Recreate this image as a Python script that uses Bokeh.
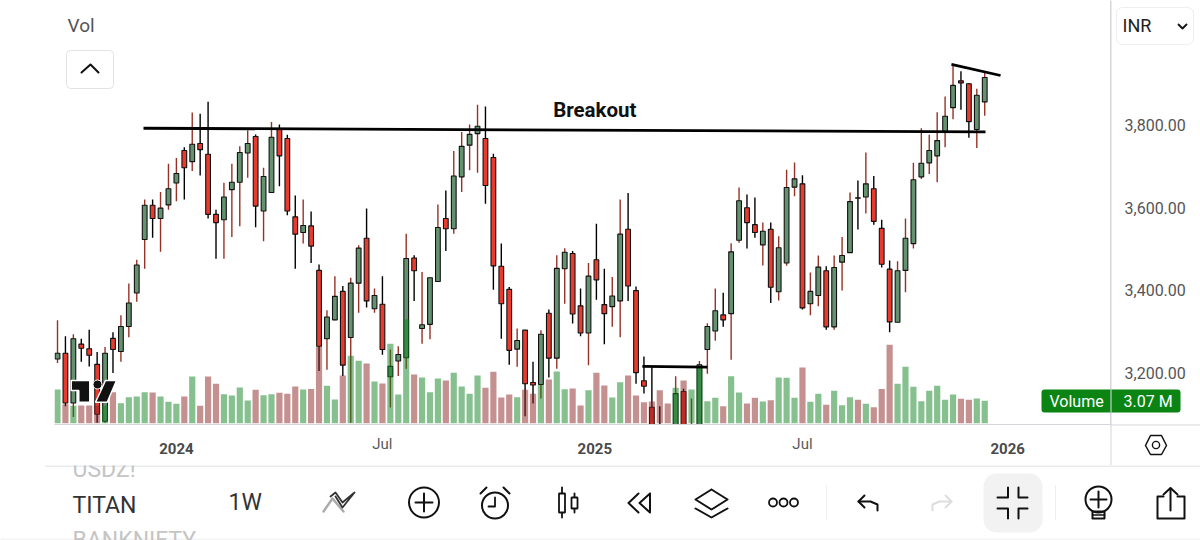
import numpy as np
from bokeh.core.properties import value
from bokeh.embed import file_html
from bokeh.layouts import column
from bokeh.models import BoxAnnotation, ColumnDataSource, FixedTicker, NumeralTickFormatter, Range1d
from bokeh.plotting import figure
from bokeh.resources import INLINE

# weekly TITAN candles (the ones around 75-81 run below the pane)
open_ = [3233,3247,3126,3269,3258,3220,3082,3283,3251,3312,3393,3523,3606,3574,3607,3660,3739,3712,3756,3730,
         3584,3571,3644,3662,3733,3773,3592,3637,3790,3768,3578,3540,3556,3448,3282,3328,3397,3285,3417,3526,
         3355,3366,3190,3228,3236,3478,3307,3317,3421,3574,3549,3675,3752,3780,3768,3722,3458,3402,3257,3303,
         3176,3171,3344,3235,3452,3489,3362,3296,3474,3365,3360,3374,3548,3399,3180,3116,3072,3060,3050,3154,
         3050,3050,3256,3301,3340,3343,3521,3600,3559,3510,3548,3396,3466,3650,3658,3367,3387,3447,3311,3468,
         3491,3624,3626,3646,3550,3451,3322,3448,3513,3675,3709,3726,3785,3843,3908,3901,3790,3857]
high = [3327,3288,3293,3282,3304,3250,3262,3298,3339,3416,3474,3620,3620,3638,3707,3721,3747,3831,3828,3857,
        3595,3661,3707,3749,3788,3778,3697,3808,3802,3777,3630,3620,3591,3462,3351,3434,3410,3430,3509,3598,
        3404,3434,3256,3264,3537,3485,3444,3430,3608,3642,3738,3784,3802,3850,3846,3731,3513,3408,3307,3303,
        3226,3303,3353,3485,3502,3495,3404,3466,3561,3452,3432,3620,3636,3409,3239,3214,3118,3062,3191,3161,
        3137,3228,3320,3404,3394,3514,3649,3632,3625,3564,3564,3531,3692,3710,3679,3443,3484,3458,3484,3529,
        3637,3666,3734,3677,3571,3472,3470,3574,3709,3793,3777,3832,3870,3946,3931,3903,3889,3927]
low = [3223,3118,3092,3226,3215,3078,3078,3199,3226,3286,3372,3452,3527,3493,3595,3616,3620,3689,3678,3574,
       3476,3476,3529,3555,3673,3553,3519,3637,3652,3582,3452,3513,3466,3204,3207,3327,3192,3078,3345,3358,
       3345,3243,3115,3192,3209,3374,3270,3281,3421,3495,3537,3638,3691,3685,3610,3401,3282,3219,3214,3094,
       3125,3137,3188,3209,3367,3319,3288,3218,3377,3269,3311,3286,3374,3173,3149,3027,3027,3020,3035,3030,
       3040,3040,3197,3277,3311,3231,3515,3501,3527,3460,3369,3375,3459,3628,3353,3339,3361,3304,3304,3399,
       3491,3547,3586,3559,3455,3298,3322,3395,3501,3670,3682,3662,3747,3815,3838,3770,3745,3823]
close = [3247,3126,3282,3259,3242,3099,3247,3256,3312,3369,3461,3606,3574,3599,3646,3683,3697,3754,3741,3584,
         3564,3626,3662,3734,3756,3604,3676,3771,3726,3592,3536,3557,3507,3264,3335,3385,3218,3417,3502,3374,
         3387,3256,3215,3244,3477,3447,3316,3430,3552,3549,3677,3749,3778,3798,3654,3459,3367,3254,3278,3173,
         3170,3293,3235,3453,3492,3342,3296,3434,3425,3343,3386,3536,3410,3200,3167,3044,3044,3040,3149,3050,
         3065,3219,3312,3350,3328,3493,3617,3564,3540,3543,3407,3503,3649,3670,3357,3397,3456,3311,3455,3484,
         3615,3623,3658,3567,3463,3323,3447,3526,3668,3708,3739,3763,3822,3897,3903,3809,3873,3916]
volume = [4.63,2.6,2.4,2.43,2.43,2.43,2.4,4.27,2.75,3.58,3.67,4.27,4.22,3.67,2.94,2.66,3.67,6.42,2.39,6.42,
          5.41,3.99,3.81,4.91,3.12,4.59,3.85,3.99,4.17,4.04,5.05,4.63,4.72,10.55,5.14,3.26,6.56,9.27,8.58,8.21,
          5.73,5.46,10.92,3.94,14.3,6.7,6.28,4.27,6.15,5.87,6.93,5.05,4.04,6.56,4.86,7.06,3.53,3.94,3.58,4.6,
          4.04,5.3,6.01,7.11,4.68,4.77,2.43,4.54,6.93,5.18,3.53,5.64,6.56,3.81,2.89,2.98,4.54,2.71,4.86,5.87,
          4.63,7.9,3.03,3.49,2.34,6.47,4.22,2.71,3.49,2.98,3.17,6.28,6.24,3.49,7.66,2.94,4.04,2.52,4.45,2.48,
          3.58,3.21,2.66,2.2,4.72,10.78,5.41,7.75,5.0,3.03,4.45,5.14,3.21,3.94,3.35,3.21,3.39,3.07]

price_ticks = [3200, 3400, 3600, 3800]
year_ticks = {15: "2024", 67.8: "2025", 119.9: "2026"}
month_ticks = {41: "Jul", 94: "Jul"}

# hand drawn lines on the chart: (week, price) ends
breakout_line = ([10.85, 117.1], [3793, 3784])
base_line = ([73.8, 82.0], [3215, 3213])
top_line = ([112.8, 119.0], [3948, 3921])

FONT = "Roboto"
GREY_LINE = "#d3d6da"
INK = "#111111"
week = np.arange(len(close))
up = np.array(close) >= np.array(open_)

source = ColumnDataSource(dict(
    week=week, high=high, low=low,
    top=np.maximum(open_, close), bottom=np.minimum(open_, close),
    volume=volume,
    body=np.where(up, "#64926f", "#e83b2e"),
    wick=np.where(up, "#963225", "#000000"),
    vol_color=np.where(up, "#0d811f", "#892121"),
))

p = figure(width=1200, height=465, output_backend="svg", toolbar_location=None, frame_align=False,
           x_range=Range1d(-0.38, 132.87), y_range=Range1d(3074, 4103), y_axis_location="right",
           min_border_left=54, min_border_right=90, min_border_top=0, min_border_bottom=41,
           outline_line_color=None, background_fill_color="white")
p.grid.visible = False
p.extra_y_ranges = {"vol": Range1d(-0.18, 58.14)}

p.segment("week", "high", "week", "low", source=source, line_color="wick", line_width=1.4)
p.vbar("week", 0.6, "top", "bottom", source=source, fill_color="body", line_color=INK, line_width=1.1)
p.vbar("week", 0.78, "volume", 0, source=source, y_range_name="vol", fill_color="vol_color",
       fill_alpha=0.5, line_color=None)

for xs, ys in (breakout_line, base_line, top_line):
    p.line(xs, ys, line_color="black", line_width=2.8)
p.text([67.8], [3837], text=["Breakout"], text_font=value(FONT), text_font_size="20.5px", text_font_style="bold",
       text_color=INK, text_align="center", text_baseline="middle")

# axes
p.yaxis.ticker = FixedTicker(ticks=price_ticks)
p.yaxis.formatter = NumeralTickFormatter(format="0,0.00")
p.yaxis.major_label_text_font = FONT
p.yaxis.major_label_text_font_size = "16px"
p.yaxis.major_label_text_color = "#555555"
p.yaxis.major_label_standoff = 8
p.yaxis.axis_line_color = GREY_LINE
p.yaxis.major_tick_line_color = None
p.yaxis.minor_tick_line_color = None

p.xaxis.ticker = FixedTicker(ticks=list(year_ticks))
p.xaxis.major_label_overrides = year_ticks
p.xaxis.major_label_text_font = FONT
p.xaxis.major_label_text_font_size = "15px"
p.xaxis.major_label_text_font_style = "bold"
p.xaxis.major_label_text_color = "#4a4a4a"
p.xaxis.major_label_standoff = 12
p.xaxis.axis_line_color = GREY_LINE
p.xaxis.major_tick_line_color = None
p.xaxis.minor_tick_line_color = None

# transparent sheet over the chart for the app furniture, its data range is the picture's own pixels
sheet = figure(width=1200, height=465, output_backend="svg", toolbar_location=None, frame_align=False,
               x_range=Range1d(0, 1200), y_range=Range1d(465, 0), x_axis_type=None, y_axis_type=None,
               min_border=0, outline_line_color=None, background_fill_color=None, border_fill_color=None,
               margin=(-465, 0, 0, 0))
sheet.grid.visible = False

# bottom tool bar, same idea
bar = figure(width=1200, height=75, output_backend="svg", toolbar_location=None, frame_align=False,
             x_range=Range1d(0, 1200), y_range=Range1d(540, 465), x_axis_type=None, y_axis_type=None,
             min_border=0, outline_line_color=None)
bar.grid.visible = False


def words(fig, x, y, text, size, color, align="left", style="normal"):
    fig.text([x], [y], text=[text], text_font=value(FONT), text_font_size=size, text_color=color,
             text_align=align, text_baseline="middle", text_font_style=style)


def box(fig, x0, x1, y0, y1, fill, line=None, radius=0):
    fig.add_layout(BoxAnnotation(left=x0, right=x1, top=y0, bottom=y1, fill_color=fill, fill_alpha=1,
                                 line_color=line, line_alpha=1, border_radius=radius, level="underlay"))


def stroke(fig, xs, ys, color=INK, width=2):
    fig.line(list(xs), list(ys), line_color=color, line_width=width, line_cap="round", line_join="round")


def ring(fig, x, y, r, width=2, color=INK):
    fig.circle([x], [y], radius=r, fill_color=None, line_color=color, line_width=width)


box(sheet, 66, 113, 50, 88, "white", "#e3e3e3", 4)
words(sheet, 67, 25, "Vol", "19px", "#555555")
stroke(sheet, [81, 90, 98], [72, 64, 72])

stroke(sheet, [1110.5, 1110.5], [0, 465], GREY_LINE, 1)
stroke(sheet, [1110, 1200], [424.5, 424.5], GREY_LINE, 1)
box(sheet, 1116, 1193, 7, 44, "white", "#eeeeee", 6)
words(sheet, 1122, 25, "INR", "18px", "#222222")
stroke(sheet, [1178, 1182, 1186], [24, 28, 24], INK, 1.8)

box(sheet, 1041, 1180, 389, 412, "#0b8414", None, 3)
stroke(sheet, [1110.5, 1110.5], [389, 412], "#7fb985", 1)
words(sheet, 1049, 401, "Volume", "16px", "white")
words(sheet, 1123, 401, "3.07 M", "16px", "white")

stroke(sheet, [1145, 1150, 1161, 1166, 1161, 1150, 1145], [445, 435, 435, 445, 454, 454, 445], INK, 1.5)
ring(sheet, 1155.5, 444.5, 3.6, 1.4)

# the month labels are regular weight, the years on the axis are bold
tick_px = 57 + 7.925 * np.array(list(month_ticks))
for x, name in zip(tick_px, month_ticks.values()):
    words(sheet, x, 443, name, "15px", "#5a5a5a", "center")

# TradingView mark sits on top of the candles
sheet.patch([70.7, 89.3, 89.3, 78.3, 78.3, 70.7], [380, 380, 401.7, 401.7, 390, 390], fill_color=INK,
            line_color="white", line_width=1.5)
sheet.circle([97], [384], radius=4.5, fill_color=INK, line_color="white", line_width=1)
sheet.patch([105, 116, 106.7, 95], [380, 380, 401.7, 401.7], fill_color=INK, line_color="white", line_width=1.5)

stroke(bar, [45, 1200], [465.5, 465.5], GREY_LINE, 1)
stroke(bar, [0, 1200], [538.5, 538.5], "#eeeeee", 1)
words(bar, 72, 469, "USDZ!", "23px", "#c4c4c4")
words(bar, 72, 505, "TITAN", "23px", "#333333")
words(bar, 72, 540, "BANKNIFTY", "23px", "#c4c4c4")
words(bar, 228, 502, "1W", "23px", "#333333")

# drawing tools
stroke(bar, [323, 332, 343], [511, 498, 511], "#aaaaaa", 2.4)
stroke(bar, [330, 335, 342, 354, 350, 342, 335], [496, 492, 502, 492, 497, 507, 496], "#333333", 1.8)

ring(bar, 423.5, 502, 15)
stroke(bar, [415, 432], [502, 502])
stroke(bar, [423.5, 423.5], [493, 511])

ring(bar, 494.5, 505, 13)
stroke(bar, [494.5, 494.5, 488], [497, 506, 506], width=1.8)
stroke(bar, [480, 486], [493, 487])
stroke(bar, [503, 509], [487, 493])

stroke(bar, [561.5, 561.5], [487, 517], width=1.8)
bar.quad(left=[558.5], right=[564.5], top=[493], bottom=[512], fill_color="white", line_color=INK, line_width=1.8)
stroke(bar, [574, 574], [493, 512], width=1.8)
bar.quad(left=[571], right=[577], top=[497], bottom=[508], fill_color="white", line_color=INK, line_width=1.8)

stroke(bar, [638, 628, 638], [493, 502.5, 512])
stroke(bar, [649.5, 639, 649.5, 649.5], [493, 502.5, 512, 493])

stroke(bar, [711, 727, 711, 695, 711], [489, 499, 509, 499, 489])
stroke(bar, [695, 711, 727], [508, 517, 508])

for x in (772.5, 783, 793.5):
    ring(bar, x, 502, 4, 1.8)
stroke(bar, [826, 826], [485, 519], "#eeeeee", 1)

stroke(bar, [864, 858, 864], [495, 501, 507])
stroke(bar, [858, 870, 877, 877], [501, 501, 504, 510])
stroke(bar, [945, 951, 945], [495, 501, 507], "#dddddd")
stroke(bar, [951, 939, 932, 932], [501, 501, 504, 510], "#dddddd")

box(bar, 983, 1042, 473, 532, "#f2f2f2", None, 13)
stroke(bar, [997, 1007.5, 1007.5], [497, 497, 487])
stroke(bar, [1027, 1018, 1018], [497, 497, 487])
stroke(bar, [997, 1007.5, 1007.5], [508, 508, 518])
stroke(bar, [1027, 1018, 1018], [508, 508, 518])
stroke(bar, [1055, 1055], [485, 519], "#eeeeee", 1)

ring(bar, 1098, 499, 13)
stroke(bar, [1090, 1106], [499, 499])
stroke(bar, [1098, 1098], [491, 507])
stroke(bar, [1092, 1092, 1104, 1104, 1092], [511, 518, 518, 511, 511])
stroke(bar, [1092, 1104], [514.5, 514.5], width=1.5)

stroke(bar, [1163, 1157, 1157, 1184, 1184, 1177], [496, 496, 518, 518, 496, 496])
stroke(bar, [1170, 1170], [488, 510])
stroke(bar, [1163, 1170, 1177], [494, 487.5, 494])

page = column(p, sheet, bar, spacing=0)
open("out.html", "w").write(file_html(page, INLINE))
